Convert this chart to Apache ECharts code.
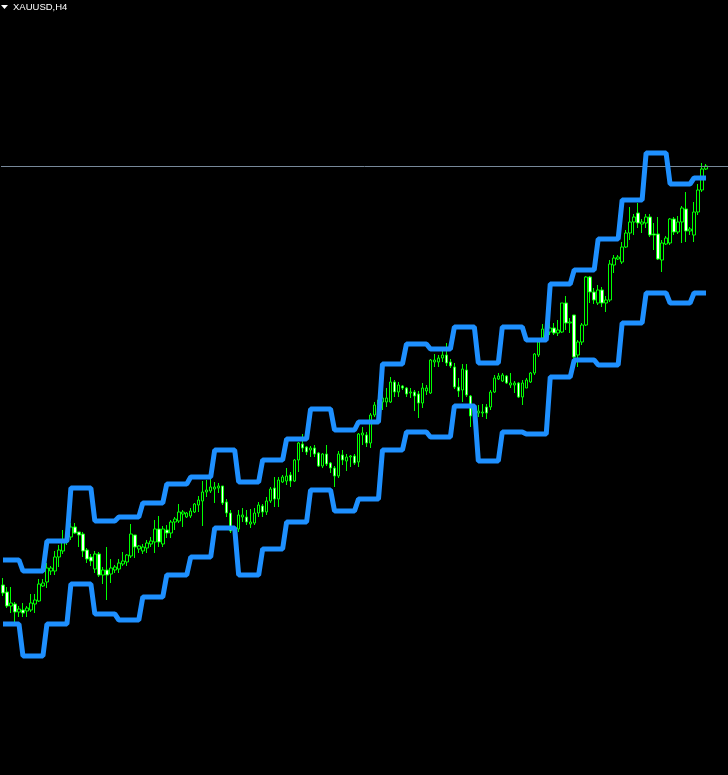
<!DOCTYPE html>
<html>
<head>
<meta charset="utf-8">
<script src="https://cdn.jsdelivr.net/npm/echarts@6/dist/echarts.min.js"></script>
<style>
html,body{margin:0;padding:0;background:#000;}
#chart{width:728px;height:775px;}
</style>
</head>
<body>
<div id="chart"></div>
<script>
const symbolTitle = 'XAUUSD,H4';

const categories = [
0,1,2,3,4,5,6,7,8,9,10,11,12,13,14,15,16,17,18,19,20,21,22,23,24,25,26,27,28,29,
30,31,32,33,34,35,36,37,38,39,40,41,42,43,44,45,46,47,48,49,50,51,52,53,54,55,56,57,58,59,
60,61,62,63,64,65,66,67,68,69,70,71,72,73,74,75,76,77,78,79,80,81,82,83,84,85,86,87,88,89,
90,91,92,93,94,95,96,97,98,99,100,101,102,103,104,105,106,107,108,109,110,111,112,113,114,115,116,117,118,119,
120,121,122,123,124,125,126,127,128,129,130,131,132,133,134,135,136,137,138,139,140,141,142,143,144,145,146,147,148,149,
150,151,152,153,154,155,156,157,158,159,160,161,162,163,164,165,166,167,168,169,170,171,172,173,174,175,176,177,178,179,
180,181
].map(String);

const opens = [
2041.5,2040.8,2039.4,2039.6,2038.8,2039.0,2038.9,2039.0,2039.6,2039.9,
2041.4,2041.8,2042.9,2042.9,2044.3,2044.9,2045.8,2046.3,2047.3,2046.8,
2046.6,2045.0,2044.3,2043.1,2044.6,2042.5,2043.0,2042.6,2043.0,2043.1,
2043.6,2043.8,2044.4,2046.5,2045.1,2044.9,2045.2,2045.6,2045.8,2047.1,
2045.6,2047.0,2046.7,2047.8,2047.9,2048.6,2048.3,2048.4,2048.8,2049.5,
2049.9,2050.8,2050.9,2051.1,2051.2,2051.4,2049.8,2048.7,2047.0,2047.1,
2048.3,2048.3,2047.6,2047.7,2048.7,2049.4,2048.8,2049.9,2051.2,2050.1,
2051.8,2051.9,2052.5,2051.9,2054.0,2055.6,2055.3,2055.0,2055.2,2054.7,
2053.4,2054.6,2053.7,2053.2,2052.4,2054.5,2053.9,2054.3,2054.4,2053.8,
2056.5,2056.5,2055.7,2058.5,2059.5,2059.8,2059.8,2059.8,2061.8,2060.8,
2061.4,2061.2,2060.7,2060.8,2060.6,2059.7,2060.9,2060.7,2063.8,2063.8,
2064.2,2064.5,2063.8,2063.3,2061.3,2061.0,2063.0,2060.4,2058.4,2058.7,
2058.7,2059.3,2059.3,2060.8,2062.1,2061.9,2062.4,2061.5,2061.5,2061.7,
2060.3,2061.2,2061.8,2062.7,2064.5,2066.2,2066.9,2066.8,2067.2,2066.7,
2066.8,2069.7,2067.7,2068.5,2064.5,2065.8,2067.5,2072.3,2070.8,2069.7,
2071.0,2069.7,2070.0,2073.5,2074.1,2073.8,2075.3,2076.7,2077.8,2078.7,
2077.6,2077.7,2078.3,2076.6,2076.6,2074.0,2075.6,2075.7,2078.1,2076.8,
2077.8,2079.1,2076.9,2076.5,2078.8,2081.0,2083.1
];
const closes = [
2040.7,2039.4,2039.7,2038.8,2039.1,2038.7,2039.2,2039.7,2040.0,2041.6,
2041.7,2043.2,2043.2,2044.3,2045.0,2045.8,2046.4,2047.3,2046.7,2046.5,
2044.9,2044.1,2043.9,2044.6,2042.5,2043.0,2042.5,2043.2,2043.3,2043.7,
2043.9,2044.5,2046.6,2045.3,2045.4,2045.3,2045.7,2045.9,2047.1,2045.8,
2047.1,2046.7,2047.8,2048.1,2048.8,2048.8,2048.7,2048.9,2049.6,2050.0,
2050.8,2051.0,2051.3,2051.3,2051.4,2049.7,2048.7,2046.9,2046.7,2048.5,
2048.5,2047.8,2047.8,2048.7,2049.5,2048.8,2049.9,2051.1,2050.1,2052.0,
2052.3,2052.4,2051.9,2054.0,2055.7,2055.2,2054.8,2055.2,2054.6,2053.4,
2054.6,2053.6,2053.2,2052.4,2054.6,2054.0,2054.3,2054.4,2053.7,2056.6,
2056.7,2055.7,2058.5,2059.5,2060.0,2060.2,2060.2,2061.8,2060.8,2061.5,
2061.2,2060.6,2060.8,2060.4,2059.7,2061.2,2061.2,2064.0,2064.0,2064.2,
2064.5,2063.7,2063.4,2061.3,2060.9,2063.1,2060.5,2058.4,2059.0,2058.9,
2058.8,2058.7,2060.8,2062.2,2062.4,2062.5,2061.7,2061.7,2061.7,2060.3,
2061.7,2062.0,2062.7,2064.6,2065.8,2067.1,2067.2,2067.2,2066.7,2067.0,
2069.7,2067.7,2067.8,2064.3,2065.8,2067.5,2072.3,2070.8,2070.0,2071.0,
2069.7,2070.0,2073.6,2074.2,2074.3,2075.3,2076.7,2077.8,2078.3,2077.7,
2077.8,2078.3,2076.5,2076.5,2074.1,2075.7,2076.2,2078.1,2076.8,2077.8,
2079.2,2076.9,2077.1,2078.8,2081.0,2083.1,2083.4
];
const lows = [
2040.4,2039.2,2038.7,2037.8,2038.3,2038.3,2038.3,2038.8,2038.7,2039.8,
2041.3,2041.2,2042.5,2042.5,2043.3,2044.6,2045.5,2046.0,2046.6,2045.3,
2044.3,2043.7,2043.4,2042.7,2042.3,2041.6,2040.0,2041.7,2042.7,2042.7,
2043.4,2043.4,2044.2,2044.2,2044.7,2044.6,2044.7,2045.3,2044.7,2045.3,
2045.3,2046.2,2046.2,2047.0,2047.7,2047.3,2048.2,2048.2,2048.7,2048.8,
2047.4,2050.3,2050.7,2049.7,2050.7,2049.5,2048.3,2046.7,2046.3,2046.8,
2047.8,2047.5,2047.2,2047.5,2048.3,2048.3,2048.5,2049.7,2049.3,2049.3,
2051.7,2051.5,2051.3,2051.8,2052.8,2054.8,2054.5,2054.3,2054.3,2053.3,
2053.2,2053.4,2052.7,2051.3,2052.2,2053.5,2052.9,2053.3,2053.5,2053.3,
2055.5,2055.3,2055.2,2058.3,2059.0,2059.0,2059.3,2059.7,2060.3,2060.3,
2061.0,2060.3,2060.2,2058.9,2058.2,2059.2,2060.5,2060.6,2063.3,2063.3,
2063.8,2063.4,2063.2,2061.1,2060.3,2059.8,2060.3,2057.3,2058.0,2058.3,
2058.3,2058.1,2059.0,2060.7,2062.0,2061.8,2061.6,2061.2,2060.7,2060.2,
2059.5,2061.2,2061.7,2062.5,2064.3,2066.0,2066.5,2066.5,2066.5,2066.4,
2066.7,2067.0,2066.7,2064.2,2063.3,2065.5,2067.4,2069.7,2069.6,2069.5,
2069.3,2068.8,2069.8,2072.7,2074.0,2073.6,2075.2,2076.0,2076.5,2077.2,
2076.7,2077.2,2076.3,2075.0,2074.0,2072.8,2075.5,2075.5,2076.5,2076.6,
2075.7,2075.8,2076.5,2075.8,2078.5,2080.8,2083.0
];
const highs = [
2042.2,2041.3,2041.3,2039.8,2039.4,2039.7,2039.4,2040.6,2040.6,2042.1,
2042.1,2043.7,2043.4,2044.9,2045.5,2047.0,2047.0,2047.7,2047.7,2046.8,
2046.8,2045.2,2044.6,2044.9,2044.8,2043.3,2045.3,2044.1,2043.5,2044.1,
2044.8,2044.6,2047.6,2046.5,2045.5,2045.6,2046.0,2046.3,2048.0,2048.4,
2047.4,2047.5,2048.0,2048.3,2049.6,2049.0,2048.8,2049.2,2049.7,2050.4,
2051.9,2052.0,2052.6,2051.8,2051.7,2051.4,2050.1,2049.0,2047.3,2049.0,
2049.2,2049.0,2049.1,2049.2,2049.8,2049.6,2050.3,2051.3,2052.3,2052.3,
2052.5,2053.2,2052.8,2054.1,2055.8,2056.6,2055.4,2055.4,2055.5,2054.8,
2054.7,2055.5,2053.8,2053.4,2054.9,2055.0,2054.6,2054.5,2054.6,2056.7,
2057.3,2056.8,2058.7,2059.8,2060.3,2060.8,2061.2,2062.3,2062.0,2061.8,
2061.5,2061.3,2061.2,2061.0,2060.9,2061.7,2061.5,2064.1,2064.6,2064.5,
2065.2,2065.7,2064.1,2063.7,2062.2,2063.6,2063.6,2060.5,2059.5,2059.5,
2059.6,2059.6,2061.0,2062.5,2062.7,2062.7,2062.5,2062.7,2061.9,2061.8,
2062.0,2062.2,2062.8,2064.7,2066.2,2067.6,2067.5,2067.7,2067.7,2068.0,
2069.7,2070.4,2068.2,2068.5,2066.0,2067.7,2072.4,2072.4,2071.2,2071.5,
2071.3,2070.4,2074.0,2074.5,2074.5,2075.8,2077.0,2079.3,2078.6,2079.7,
2078.1,2078.6,2078.6,2077.7,2078.3,2076.0,2076.4,2078.2,2078.3,2078.4,
2079.4,2080.8,2077.3,2079.8,2081.6,2083.7,2083.6
];

const upperBand = [
2044.0,2044.0,2044.0,2044.0,2044.0,
2042.9,2042.9,2042.9,2042.9,2042.9,2042.9,
2045.9,2045.9,2045.9,2045.9,2045.9,2045.9,
2051.2,2051.2,2051.2,2051.2,2051.2,2051.2,
2047.9,2047.9,2047.9,2047.9,2047.9,2047.9,
2048.3,2048.3,2048.3,2048.3,2048.3,2048.3,
2049.7,2049.7,2049.7,2049.7,2049.7,2049.7,
2051.6,2051.6,2051.6,2051.6,2051.6,2051.6,
2052.3,2052.3,2052.3,2052.3,2052.3,2052.3,
2055.0,2055.0,2055.0,2055.0,2055.0,2055.0,
2051.8,2051.8,2051.8,2051.8,2051.8,2051.8,
2054.0,2054.0,2054.0,2054.0,2054.0,2054.0,
2056.1,2056.1,2056.1,2056.1,2056.1,2056.1,
2059.1,2059.1,2059.1,2059.1,2059.1,2059.1,
2057.0,2057.0,2057.0,2057.0,2057.0,2057.0,
2057.8,2057.8,2057.8,2057.8,2057.8,2057.8,
2063.6,2063.6,2063.6,2063.6,2063.6,2063.6,
2065.6,2065.6,2065.6,2065.6,2065.6,2065.6,
2065.1,2065.1,2065.1,2065.1,2065.1,2065.1,
2067.3,2067.3,2067.3,2067.3,2067.3,2067.3,
2063.7,2063.7,2063.7,2063.7,2063.7,2063.7,
2067.3,2067.3,2067.3,2067.3,2067.3,2067.3,
2066.0,2066.0,2066.0,2066.0,2066.0,2066.0,
2071.6,2071.6,2071.6,2071.6,2071.6,2071.6,
2073.0,2073.0,2073.0,2073.0,2073.0,2073.0,
2076.1,2076.1,2076.1,2076.1,2076.1,2076.1,
2080.0,2080.0,2080.0,2080.0,2080.0,2080.0,
2084.7,2084.7,2084.7,2084.7,2084.7,2084.7,
2081.6,2081.6,2081.6,2081.6,2081.6,2081.6,
2082.2,2082.2,2082.2,2082.2
];
const lowerBand = [
2037.6,2037.6,2037.6,2037.6,2037.6,
2034.4,2034.4,2034.4,2034.4,2034.4,2034.4,
2037.6,2037.6,2037.6,2037.6,2037.6,2037.6,
2041.6,2041.6,2041.6,2041.6,2041.6,2041.6,
2038.6,2038.6,2038.6,2038.6,2038.6,2038.6,
2038.0,2038.0,2038.0,2038.0,2038.0,2038.0,
2040.3,2040.3,2040.3,2040.3,2040.3,2040.3,
2042.5,2042.5,2042.5,2042.5,2042.5,2042.5,
2044.3,2044.3,2044.3,2044.3,2044.3,2044.3,
2047.2,2047.2,2047.2,2047.2,2047.2,2047.2,
2042.5,2042.5,2042.5,2042.5,2042.5,2042.5,
2045.1,2045.1,2045.1,2045.1,2045.1,2045.1,
2047.8,2047.8,2047.8,2047.8,2047.8,2047.8,
2051.0,2051.0,2051.0,2051.0,2051.0,2051.0,
2048.9,2048.9,2048.9,2048.9,2048.9,2048.9,
2050.1,2050.1,2050.1,2050.1,2050.1,2050.1,
2055.0,2055.0,2055.0,2055.0,2055.0,2055.0,
2056.8,2056.8,2056.8,2056.8,2056.8,2056.8,
2056.3,2056.3,2056.3,2056.3,2056.3,2056.3,
2059.4,2059.4,2059.4,2059.4,2059.4,2059.4,
2053.9,2053.9,2053.9,2053.9,2053.9,2053.9,
2056.8,2056.8,2056.8,2056.8,2056.8,2056.8,
2056.6,2056.6,2056.6,2056.6,2056.6,2056.6,
2062.3,2062.3,2062.3,2062.3,2062.3,2062.3,
2064.0,2064.0,2064.0,2064.0,2064.0,2064.0,
2063.5,2063.5,2063.5,2063.5,2063.5,2063.5,
2067.7,2067.7,2067.7,2067.7,2067.7,2067.7,
2070.7,2070.7,2070.7,2070.7,2070.7,2070.7,
2069.7,2069.7,2069.7,2069.7,2069.7,2069.7,
2070.7,2070.7,2070.7,2070.7
];

const bidPrice = 2083.4;
const priceMin = 2022.5;
const priceMax = 2100;

const ohlc = opens.map((o, i) => [o, closes[i], lows[i], highs[i]]);

const chart = echarts.init(document.getElementById('chart'), null, {renderer: 'canvas'});
chart.setOption({
  backgroundColor: '#000000',
  animation: false,
  grid: {left: 1, right: 0, top: 0, bottom: 0, containLabel: false},
  xAxis: {
    type: 'category', data: categories, boundaryGap: true,
    axisLine: {show: false}, axisTick: {show: false}, axisLabel: {show: false}, splitLine: {show: false}
  },
  yAxis: {
    type: 'value', min: priceMin, max: priceMax, scale: true,
    axisLine: {show: false}, axisTick: {show: false}, axisLabel: {show: false}, splitLine: {show: false}
  },
  graphic: [
    {type: 'polygon', shape: {points: [[1, 5], [8, 5], [4.5, 9]]}, style: {fill: '#ffffff'}, z: 100},
    {type: 'text', left: 13, top: 2, style: {text: symbolTitle, fill: '#ffffff', font: '9.5px "Liberation Sans", Arial, sans-serif'}, z: 100}
  ],
  series: [
    {
      type: 'candlestick', data: ohlc, barWidth: 3, z: 2,
      itemStyle: {color: '#000000', color0: '#ffffff', borderColor: '#00ff00', borderColor0: '#00ff00', borderColorDoji: '#00ff00', borderWidth: 1},
      emphasis: {disabled: true},
      markLine: {
        silent: true, symbol: ['none', 'none'], label: {show: false},
        lineStyle: {color: '#778899', width: 1, type: 'solid'},
        data: [{yAxis: bidPrice}]
      }
    },
    {
      type: 'line', data: upperBand, showSymbol: false, z: 5, silent: true,
      lineStyle: {color: '#1e90ff', width: 5}, emphasis: {disabled: true}
    },
    {
      type: 'line', data: lowerBand, showSymbol: false, z: 5, silent: true,
      lineStyle: {color: '#1e90ff', width: 5}, emphasis: {disabled: true}
    }
  ]
});
</script>
</body>
</html>
